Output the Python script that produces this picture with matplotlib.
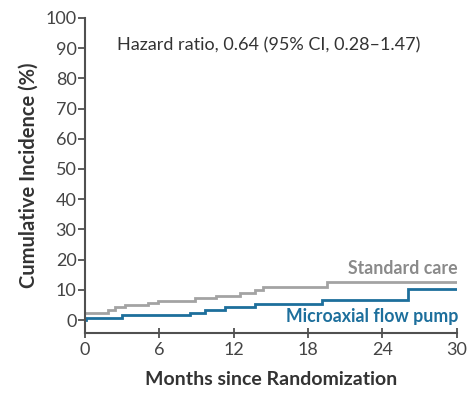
import matplotlib
matplotlib.use("Agg")
import matplotlib.pyplot as plt

# Standard care step curve (months, cumulative incidence %)
std_months = [0, 1.9, 2.4, 3.2, 5.1, 5.9, 8.9, 10.6, 12.5, 13.7, 14.4, 19.5, 30]
std_values = [2.2, 3.5, 4.4, 5.1, 5.7, 6.4, 7.2, 7.9, 8.8, 9.9, 10.8, 12.5, 12.5]

# Microaxial flow pump step curve
pump_months = [0, 0.1, 3.0, 8.5, 9.7, 11.3, 13.7, 19.1, 26.1, 30]
pump_values = [0.0, 0.6, 1.65, 2.5, 3.3, 4.2, 5.3, 6.6, 10.3, 10.3]

x_ticks = [0, 6, 12, 18, 24, 30]
y_ticks = [0, 10, 20, 30, 40, 50, 60, 70, 80, 90, 100]

gray = "#a3a3a3"
blue = "#1d6f9c"
axis_col = "#505050"
txt_col = "#333333"

plt.rcParams["font.family"] = ["Lato", "DejaVu Sans"]

fig = plt.figure(figsize=(4.69, 3.97), dpi=100)
ax = fig.add_axes([0.181, 0.161, 0.793, 0.794])

ax.step(std_months, std_values, where="post", color=gray, lw=2.0, solid_joinstyle="miter")
ax.step(pump_months, pump_values, where="post", color=blue, lw=2.0, solid_joinstyle="miter")

ax.set_xlim(0, 30)
ax.set_ylim(-4.3, 100)
ax.set_xticks(x_ticks)
ax.set_yticks(y_ticks)
ax.tick_params(axis="both", colors=axis_col, labelcolor="#444444", labelsize=13, width=1.3)
ax.tick_params(axis="y", direction="out", length=5, pad=1)
ax.tick_params(axis="x", direction="inout", length=7, pad=3)

for s in ["top", "right"]:
    ax.spines[s].set_visible(False)
for s in ["left", "bottom"]:
    ax.spines[s].set_color(axis_col)
    ax.spines[s].set_linewidth(1.5)
ax.spines["left"].set_bounds(-4.3, 100)

ax.set_xlabel("Months since Randomization", fontsize=14, fontweight="bold", color=txt_col, labelpad=9)
ax.set_ylabel("Cumulative Incidence (%)", fontsize=14.5, fontweight="bold", color=txt_col, labelpad=5)

ax.text(2.6, 91, "Hazard ratio, 0.64 (95% CI, 0.28\u20131.47)", fontsize=13, color=txt_col, va="center", ha="left")
ax.text(30.1, 17.2, "Standard care", fontsize=12.8, color="#8a8a8a", va="center", ha="right", fontweight="bold")
ax.text(30.1, 1.2, "Microaxial flow pump", fontsize=12.8, color=blue, va="center", ha="right", fontweight="bold")

fig.savefig("out.png", dpi=100)
